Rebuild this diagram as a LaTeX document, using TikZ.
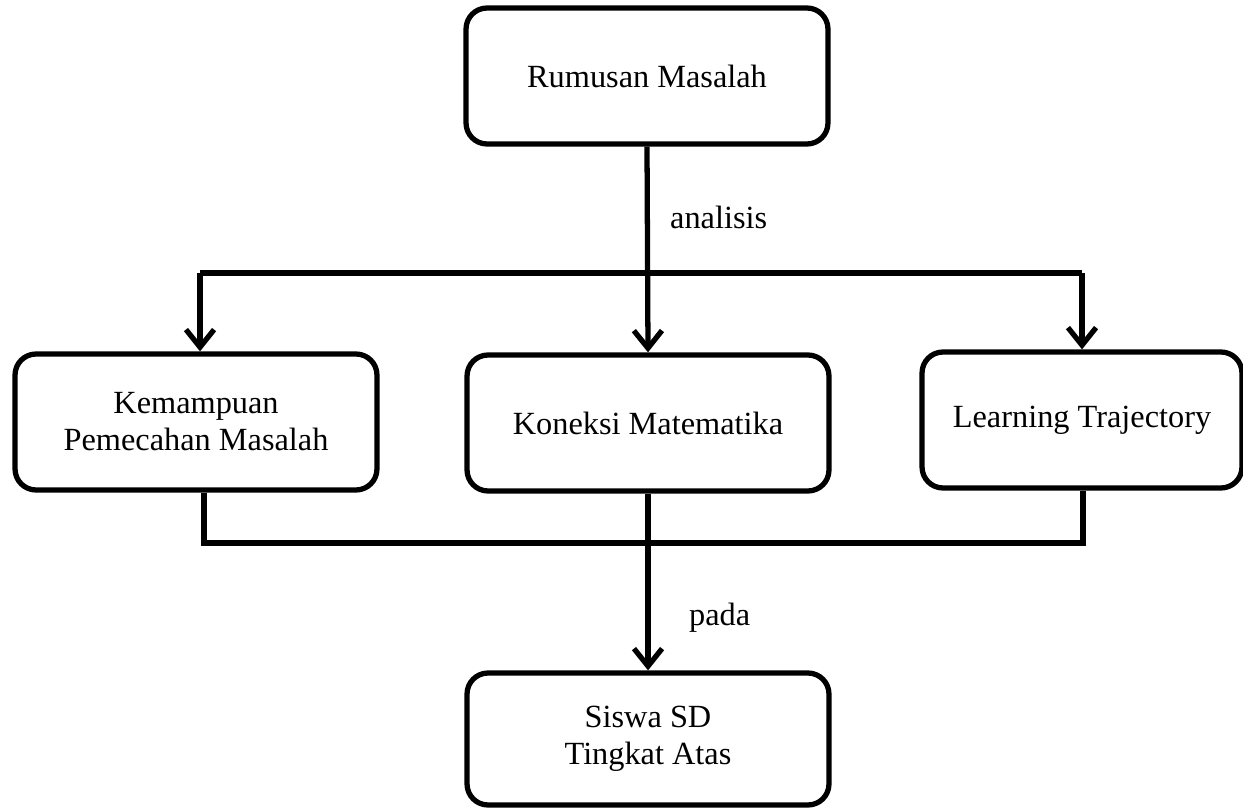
\documentclass[tikz,border=0pt]{standalone}
\usepackage{fontspec}
\setmainfont{Liberation Serif}
\usetikzlibrary{positioning, arrows.meta, calc}

\begin{document}
\begin{tikzpicture}[x=0.02cm, y=-0.02cm,
    every node/.style={font=\fontsize{18.4}{21}\selectfont},
    box/.style={draw, line width=3pt, rounded corners=0.42cm, align=center, minimum width=7.24cm, minimum height=2.72cm},
    flow/.style={line width=3pt},
    arrowflow/.style={flow, -{Straight Barb[length=10pt, width=16pt, line width=3pt]}}]
            \useasboundingbox (0,0) rectangle (1243,810);
            % Boxes
            \node[box] (rumusan) at (647,76) {Rumusan Masalah};
            
            \node[box] (kemampuan) at (196,422) {Kemampuan\\Pemecahan Masalah};
            
            \node[box] (koneksi) at (648,423) {Koneksi Matematika};
            
            \node[box, minimum width=6.4cm] (learning) at (1082,420) {Learning Trajectory};
            
            \node[box, minimum height=2.64cm] (siswa) at (648,739) {Siswa SD\\Tingkat Atas};
            
            % Bus points
            \coordinate (atasKiri) at (200,273);
            \coordinate (atasKanan) at (1082,273);
            \coordinate (bawahKiri) at (204,543);
            \coordinate (bawahKanan) at (1083,543);
            
            % Arrows
            \draw[arrowflow] (rumusan.south) -- (koneksi.north);
            \draw[flow] (atasKiri) -- (atasKanan);
            \draw[arrowflow] (atasKiri) -- (atasKiri |- kemampuan.north);
            \draw[arrowflow] (atasKanan) -- (atasKanan |- learning.north);
            \draw[flow] (bawahKiri |- kemampuan.south) -- (bawahKiri) -- (bawahKanan) -- (bawahKanan |- learning.south);
            \draw[arrowflow] (koneksi.south) -- (siswa.north);
            
            % Labels
            \node[anchor=west] (analisis) at (664,217) {analisis};
            \node[anchor=west] (pada) at (683,618) {pada};
        \end{tikzpicture}
\end{document}
